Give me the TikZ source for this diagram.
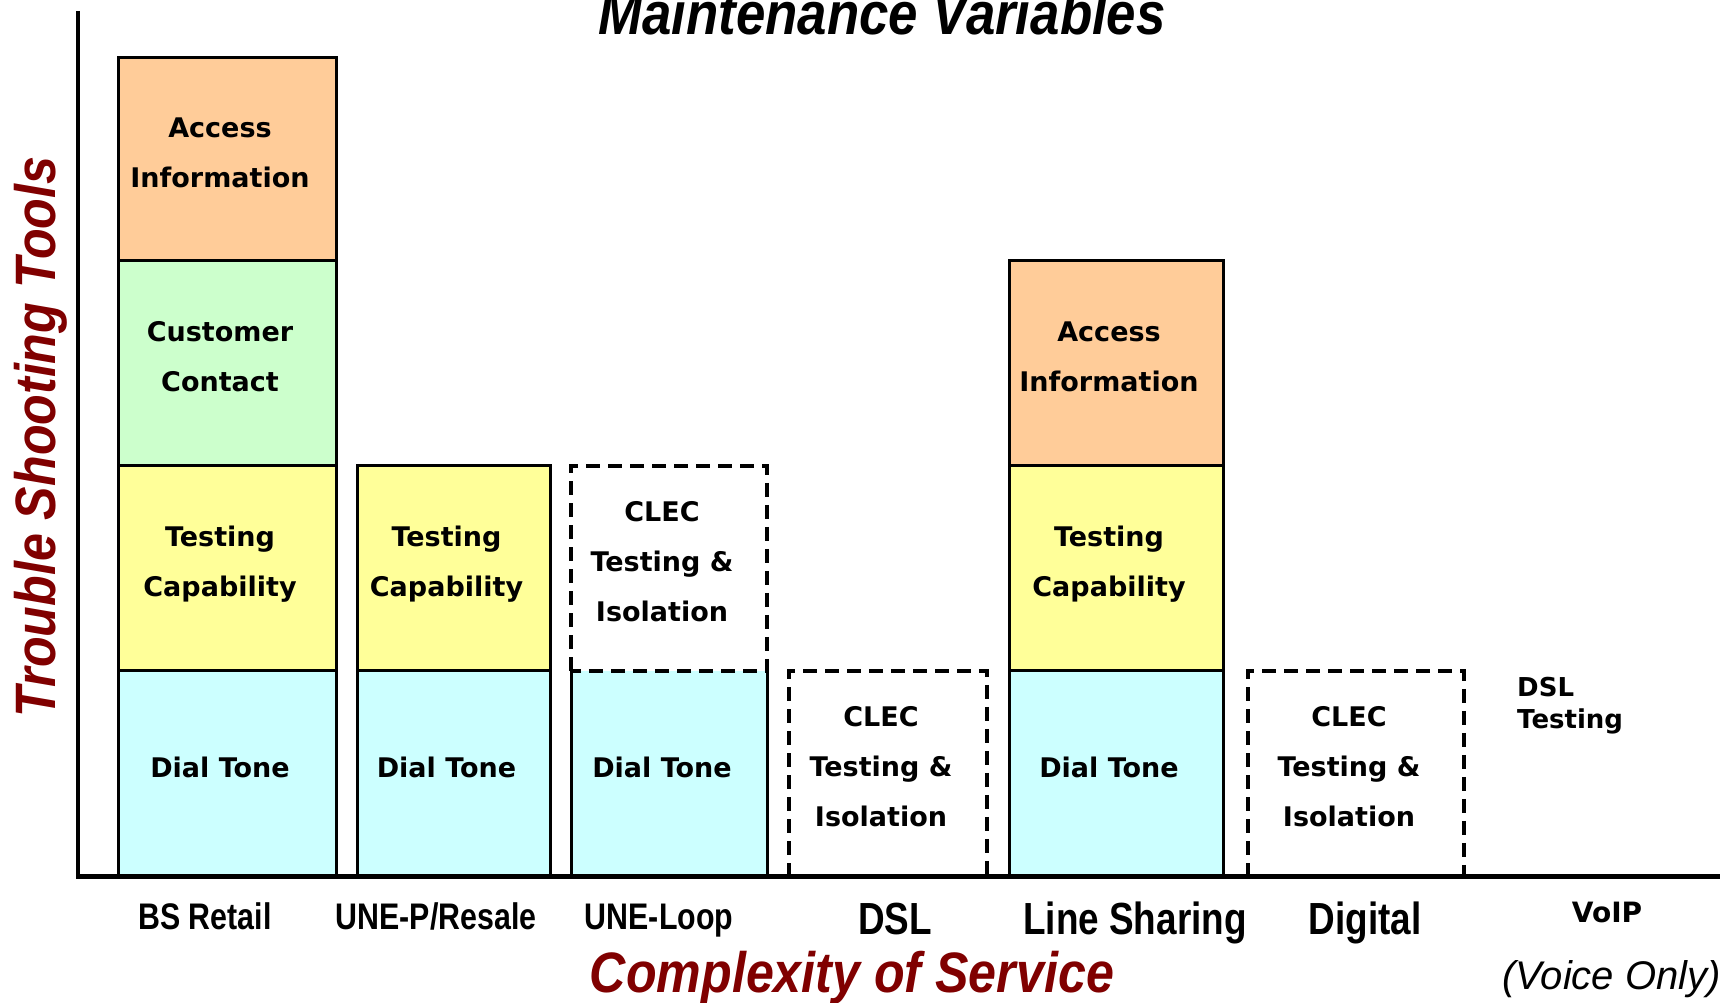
\documentclass[tikz,border=0pt]{standalone}
\usepackage{fontspec}
\setmainfont{Liberation Sans}
\newfontfamily\boxfont{DejaVu Sans}
\newfontfamily\narrowfont[FakeStretch=0.82]{Liberation Sans}
\newfontfamily\headfont[FakeStretch=0.88]{Liberation Sans}
\definecolor{accessc}{HTML}{FFCC99}
\definecolor{contactc}{HTML}{CCFFCC}
\definecolor{testc}{HTML}{FFFF99}
\definecolor{dialc}{HTML}{CCFFFF}
\definecolor{darkred}{HTML}{800000}
\tikzset{
  solidbox/.style={draw=black,line width=3pt},
  dashbox/.style={draw=black,line width=4pt,dash pattern=on 14pt off 8pt},
  boxtxt/.style={font=\boxfont\bfseries\fontsize{27}{50}\selectfont,align=center,xshift=-7pt,yshift=7pt},
  smallcat/.style={font=\narrowfont\bfseries\fontsize{37}{37}\selectfont,anchor=base},
  bigcat/.style={font=\narrowfont\bfseries\fontsize{45}{45}\selectfont,anchor=base},
  axislabel/.style={font=\headfont\bfseries\itshape\fontsize{57}{57}\selectfont,text=darkred,anchor=base}
}
\begin{document}
\begin{tikzpicture}[x=1pt,y=1pt]
\useasboundingbox (0,0) rectangle (1734,1003);

\coordinate (origin) at (78,126);
\coordinate (ytop) at (78,992);
\coordinate (xend) at (1720,126);

% BS Retail
\filldraw[solidbox,fill=dialc] (118,126) rectangle (336,332);
\filldraw[solidbox,fill=testc] (118,332) rectangle (336,537);
\filldraw[solidbox,fill=contactc] (118,537) rectangle (336,742);
\filldraw[solidbox,fill=accessc] (118,742) rectangle (336,945);
\node[boxtxt] (bsDial) at (227,229) {Dial Tone};
\node[boxtxt] (bsTest) at (227,431.5) {Testing\\Capability};
\node[boxtxt] (bsContact) at (227,639.5) {Customer\\Contact};
\node[boxtxt] (bsAccess) at (227,843.5) {Access\\Information};

% UNE-P/Resale
\filldraw[solidbox,fill=dialc] (357,126) rectangle (550,332);
\filldraw[solidbox,fill=testc] (357,332) rectangle (550,537);
\node[boxtxt] (upDial) at (453.5,229) {Dial Tone};
\node[boxtxt] (upTest) at (453.5,431.5) {Testing\\Capability};

% UNE-Loop
\fill[dialc] (571,126) rectangle (767,332);
\draw[solidbox] (571,332) -- (571,126) -- (767,126) -- (767,332);
\draw[dashbox] (571,332) rectangle (767,537);
\node[boxtxt] (ulDial) at (669,229) {Dial Tone};
\node[boxtxt] (ulClec) at (669,434.5) {CLEC\\Testing \&\\Isolation};

% DSL
\draw[dashbox] (789,126) rectangle (987,332);
\node[boxtxt] (dslClec) at (888,229) {CLEC\\Testing \&\\Isolation};

% Line Sharing
\filldraw[solidbox,fill=dialc] (1009,126) rectangle (1223,332);
\filldraw[solidbox,fill=testc] (1009,332) rectangle (1223,537);
\filldraw[solidbox,fill=accessc] (1009,537) rectangle (1223,742);
\node[boxtxt] (lsDial) at (1116,229) {Dial Tone};
\node[boxtxt] (lsTest) at (1116,431.5) {Testing\\Capability};
\node[boxtxt] (lsAccess) at (1116,639.5) {Access\\Information};

% Digital
\draw[dashbox] (1248,126) rectangle (1464,332);
\node[boxtxt] (digClec) at (1356,229) {CLEC\\Testing \&\\Isolation};

% VoIP
\node[font=\boxfont\bfseries\fontsize{26}{32}\selectfont,align=left,anchor=north west,inner sep=0pt] (voipTest) at (1517,326) {DSL\\Testing};

% axes
\draw[line width=4pt] (ytop) -- (origin);
\draw[line width=5pt] ([xshift=-2pt]origin) -- (xend);

% service names
\node[smallcat] (bsName) at (205,73) {BS Retail};
\node[smallcat] (upName) at (436,73) {UNE-P/Resale};
\node[smallcat] (ulName) at (659,73) {UNE-Loop};
\node[bigcat] (dslName) at (895,68) {DSL};
\node[bigcat] (lsName) at (1135,68) {Line Sharing};
\node[bigcat] (digName) at (1365,68) {Digital};
\node[font=\boxfont\bfseries\fontsize{28}{28}\selectfont,anchor=base] (voipName) at (1607,80) {VoIP};
\node[font=\itshape\fontsize{40}{40}\selectfont,anchor=base east,inner sep=0pt] (voiceOnly) at (1721,13) {(Voice Only)};

% titles
\node[font=\headfont\bfseries\itshape\fontsize{60}{60}\selectfont,anchor=base] (title) at (882,968) {Maintenance Variables};
\node[axislabel] (xTitle) at (852,10) {Complexity of Service};
\node[axislabel,rotate=90] (yTitle) at (55,566) {Trouble Shooting Tools};
\end{tikzpicture}
\end{document}
